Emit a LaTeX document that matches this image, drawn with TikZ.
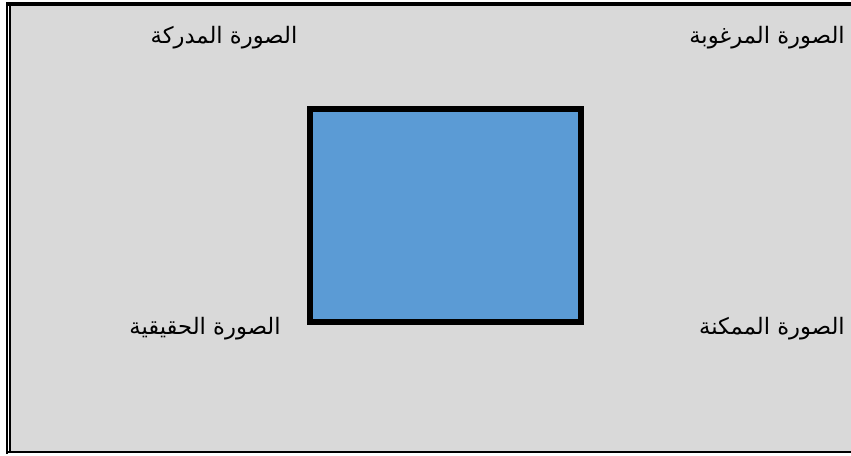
\documentclass[tikz,border=0pt]{standalone}
\usepackage{fontspec}
\newfontfamily\arabicfont[Script=Arabic]{DejaVu Sans}
\TeXXeTstate=1
\usetikzlibrary{positioning}
\definecolor{kgray}{HTML}{D9D9D9}
\definecolor{kblue}{HTML}{5B9BD5}
\tikzset{
  imagebox/.style={draw=black, fill=kblue, line width=4.5pt, minimum width=203pt, minimum height=160pt, inner sep=0pt},
  imagetext/.style={font=\arabicfont\fontsize{17}{20}\selectfont, text=black, inner sep=0pt}
}
\begin{document}
\begin{tikzpicture}[x=0.75pt, y=-0.75pt]
\useasboundingbox (0,0) rectangle (851,455);
\fill[white] (0,0) rectangle (851,455);
\fill[kgray] (9,4) rectangle (851,452);
% frame
\draw[line width=3pt] (6,4) -- (851,4);
\draw[line width=1.5pt] (7,2) -- (7,454);
\draw[line width=1.5pt] (10,4) -- (10,452);
\draw[line width=1.5pt] (6,452) -- (851,452);
% centre box
\node[imagebox] (self) at (445.25,215.5) {};
% four labels
\node[imagetext] (perceived) at (224,38) {\beginR الصورة المدركة\endR};
\node[imagetext, anchor=east] (desired) at (845,38) {\beginR الصورة المرغوبة\endR};
\node[imagetext] (actual) at (205,329) {\beginR الصورة الحقيقية\endR};
\node[imagetext, anchor=east] (possible) at (845,329) {\beginR الصورة الممكنة\endR};
\end{tikzpicture}
\end{document}
